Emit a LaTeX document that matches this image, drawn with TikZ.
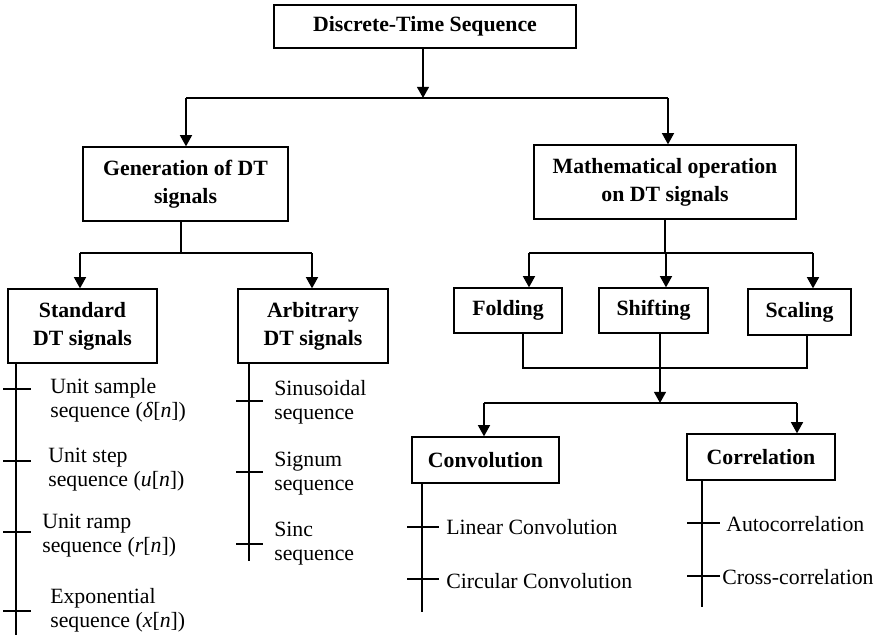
\documentclass[tikz,border=0pt]{standalone}
\usepackage{fontspec}
\setmainfont{Liberation Serif}
\usetikzlibrary{arrows.meta,positioning,calc}

\begin{document}
\begin{tikzpicture}[
  x=0.025cm, y=-0.025cm,
  every node/.style={font=\fontsize{15.5}{17}\selectfont},
  box/.style={rectangle, draw=black, line width=0.9pt, align=center, inner sep=2pt, font=\fontsize{15.5}{20}\selectfont\bfseries},
  wire/.style={line width=1.3pt, black},
  conn/.style={wire, -{Triangle[length=8pt,width=8.5pt]}},
  tickline/.style={line width=1.2pt, black},
  item/.style={anchor=west, align=left, inner sep=0pt},
]
  \useasboundingbox (0,0) rectangle (880,640);

  % boxes
  \node[box, minimum width=7.55cm, minimum height=1.075cm] (top) at (425,26.5) {Discrete-Time Sequence};
  \node[box, minimum width=5.125cm, minimum height=1.85cm] (gen) at (185.5,184) {Generation of DT\\signals};
  \node[box, minimum width=6.55cm, minimum height=1.85cm] (math) at (665,182) {Mathematical operation\\on DT signals};
  \node[box, minimum width=3.725cm, minimum height=1.85cm] (std) at (82.5,326) {Standard\\DT signals};
  \node[box, minimum width=3.75cm, minimum height=1.85cm] (arb) at (313,326) {Arbitrary\\DT signals};
  \node[box, minimum width=2.7cm, minimum height=1.125cm] (fold) at (508,310.5) {Folding};
  \node[box, minimum width=2.725cm, minimum height=1.125cm] (shift) at (653.5,310.5) {Shifting};
  \node[box, minimum width=2.575cm, minimum height=1.15cm] (scale) at (799.5,312) {Scaling};
  \node[box, minimum width=3.675cm, minimum height=1.15cm] (conv) at (485.5,460) {Convolution};
  \node[box, minimum width=3.7cm, minimum height=1.15cm] (corr) at (761,457) {Correlation};

  % junction points
  \coordinate (tj) at (423,98);
  \coordinate (ta) at (186,98);
  \coordinate (tb) at (668,98);
  \coordinate (gj) at (181,253);
  \coordinate (ga) at (80,253);
  \coordinate (gb) at (312,253);
  \coordinate (ma) at (529,253);
  \coordinate (mb) at (666,253);
  \coordinate (mc) at (813,253);
  \coordinate (fa) at (523,368);
  \coordinate (fb) at (660,368);
  \coordinate (fc) at (807,368);
  \coordinate (ca) at (484,403);
  \coordinate (cb) at (797,403);

  % top level
  \draw[conn] (tj |- top.south) -- (tj);
  \draw[wire] (ta) -- (tb);
  \draw[conn] (ta) -- (ta |- gen.north);
  \draw[conn] (tb) -- (tb |- math.north);

  % generation branch
  \draw[wire] (gj |- gen.south) -- (gj);
  \draw[wire] (ga) -- (gb);
  \draw[conn] (ga) -- (ga |- std.north);
  \draw[conn] (gb) -- (gb |- arb.north);

  % operation branch
  \draw[wire] (math.south) -- (math.south |- mb);
  \draw[wire] (ma) -- (mc);
  \foreach \j/\b in {ma/fold, mb/shift, mc/scale}
    \draw[conn] (\j) -- (\j |- \b.north);
  \draw[wire] (fa |- fold.south) -- (fa) -- (fc) -- (fc |- scale.south);
  \draw[wire] (fb |- shift.south) -- (fb);
  \draw[conn] (fb) -- (fb |- ca);
  \draw[wire] (ca) -- (cb);
  \draw[conn] (ca) -- (ca |- conv.north);
  \draw[conn] (cb) -- (cb |- corr.north);

  % standard signals list
  \coordinate (sl) at (16,635);
  \draw[tickline] (sl |- std.south) -- (sl);
  \foreach \y in {389,461,532,611}
    \draw[tickline] (3,\y) -- (31,\y);
  \node[item] (usam) at (50,400) {Unit sample\\sequence (\textit{δ}[\textit{n}])};
  \node[item] (ustp) at (48,470) {Unit step\\sequence (\textit{u}[\textit{n}])};
  \node[item] (uramp) at (42,536) {Unit ramp\\sequence (\textit{r}[\textit{n}])};
  \node[item] (expo) at (50,610) {Exponential\\sequence (\textit{x}[\textit{n}])};

  % arbitrary signals list
  \coordinate (al) at (249,561);
  \draw[tickline] (al |- arb.south) -- (al);
  \foreach \y in {401,472,544}
    \draw[tickline] (236,\y) -- (263,\y);
  \node[item] (sinu) at (274,402) {Sinusoidal\\sequence};
  \node[item] (sgn) at (274,474) {Signum\\sequence};
  \node[item] (sinc) at (274,544) {Sinc\\sequence};

  % convolution list
  \coordinate (cl) at (422,612);
  \draw[tickline] (cl |- conv.south) -- (cl);
  \foreach \y in {527,579}
    \draw[tickline] (407,\y) -- (439,\y);
  \node[item] (lin) at (446,527) {Linear Convolution};
  \node[item] (circ) at (446,581) {Circular Convolution};

  % correlation list
  \coordinate (rl) at (702,607);
  \draw[tickline] (rl |- corr.south) -- (rl);
  \foreach \y in {523,576}
    \draw[tickline] (687,\y) -- (720,\y);
  \node[item] (auto) at (726,524) {Autocorrelation};
  \node[item] (cross) at (722,577) {Cross-correlation};
\end{tikzpicture}
\end{document}
